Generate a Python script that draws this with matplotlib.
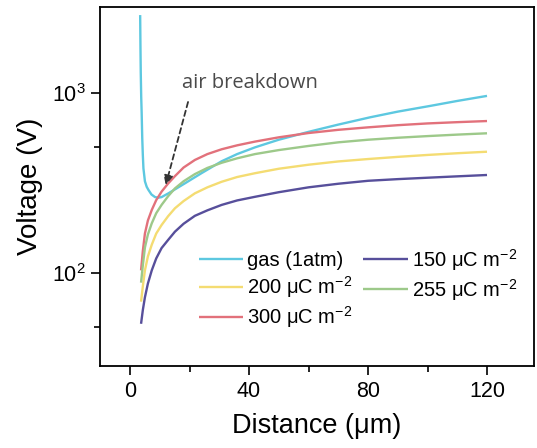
import matplotlib
matplotlib.use("Agg")
import matplotlib.pyplot as plt
from matplotlib.ticker import FixedLocator, NullFormatter

plt.rcParams['font.family'] = ['Liberation Sans', 'DejaVu Sans']
plt.rcParams['mathtext.fontset'] = 'custom'
plt.rcParams['mathtext.rm'] = 'Liberation Sans'
plt.rcParams['mathtext.it'] = 'Liberation Sans:italic'
plt.rcParams['mathtext.bf'] = 'Liberation Sans:bold'

# Gas (Paschen) curve
d_gas = [3.4, 3.5, 3.6, 3.75, 3.9, 4.1, 4.3, 4.5, 5.0, 5.6, 6.2, 7.2, 8.4, 9.5, 10.6, 12.9, 15.5,
         18.5, 24, 30.8, 36, 42, 50, 60, 70, 80.7, 90, 100.8, 110, 120]
v_gas = [2700, 1800, 1300, 950, 780, 560, 450, 380, 322, 300, 288, 272, 263, 261, 263, 276, 293,
         314, 357, 416, 456, 497, 548, 606, 665, 730, 785, 844, 900, 960]

# Surface charge curves
d_sc = [3.7, 4.3, 5.0, 6.0, 7.3, 8.8, 10.6, 12.8, 15.1, 18, 21.8, 26, 30.8, 36, 42, 50, 60, 70,
        80, 90, 100, 110, 120]
v_150 = [52, 62, 73, 87, 103, 120, 137, 152, 169, 187, 207, 222, 238, 252, 264, 280, 298, 312,
         324, 331, 337, 343, 349]
v_200 = [69, 84, 103, 123, 143, 165, 184, 206, 228, 250, 276, 298, 320, 340, 357, 378, 398, 415,
         428, 440, 451, 461, 470]
v_255 = [88, 110, 138, 163, 188, 214, 238, 266, 294, 322, 353, 382, 408, 432, 456, 480, 506, 530,
         548, 562, 574, 585, 595]
v_300 = [103, 132, 165, 195, 223, 253, 282, 313, 344, 384, 423, 456, 485, 510, 535, 565, 597, 622,
         642, 660, 675, 686, 696]

labels = ['gas (1atm)', r'200 μC m$^{-2}$', r'300 μC m$^{-2}$', r'150 μC m$^{-2}$', r'255 μC m$^{-2}$']
colors = ['#5DC8E0', '#F4DC72', '#E2717B', '#574F9B', '#9DC98A']

x_major = [0, 40, 80, 120]
x_minor = [20, 60, 100]
y_major = [100, 1000]
y_major_labels = [r'$10^2$', r'$10^3$']
y_minor = [50, 500]

fig = plt.figure(figsize=(5.37, 4.48), dpi=100)
ax = fig.add_axes([100/537, 1-366/448, 434/537, 359/448])

series = [(d_gas, v_gas), (d_sc, v_200), (d_sc, v_300), (d_sc, v_150), (d_sc, v_255)]
handles = []
for (xs, ys), lab, c in zip(series, labels, colors):
    h, = ax.plot(xs, ys, color=c, lw=1.7, label=lab, solid_capstyle='butt', solid_joinstyle='round')
    handles.append(h)

ax.set_yscale('log')
ax.set_xlim(-10.1, 135.8)
ax.set_ylim(30.3, 2994)

ax.xaxis.set_major_locator(FixedLocator(x_major))
ax.xaxis.set_minor_locator(FixedLocator(x_minor))
ax.yaxis.set_major_locator(FixedLocator(y_major))
ax.set_yticklabels(y_major_labels)
ax.yaxis.set_minor_locator(FixedLocator(y_minor))
ax.yaxis.set_minor_formatter(NullFormatter())

ax.tick_params(which='major', direction='out', length=6.5, width=1.2, labelsize=15.5, pad=4)
ax.tick_params(which='minor', direction='out', length=4, width=1.2)
ax.tick_params(top=False, right=False, which='both')
for s in ax.spines.values():
    s.set_linewidth(1.3)

ax.set_xlabel('Distance (μm)', fontsize=19.5, labelpad=8)
ax.set_ylabel('Voltage (V)', fontsize=20, labelpad=6)

ax.annotate('', xy=(12.0, 307), xytext=(19.5, 888),
            arrowprops=dict(arrowstyle='-|>', linestyle=(0, (3, 2)), color='#333333',
                            lw=1.3, mutation_scale=14, shrinkA=0, shrinkB=0))
ax.text(17.4, 1132, 'air breakdown', fontsize=14.5, color='#4a4a4a',
        family=['Open Sans', 'DejaVu Sans'], ha='left', va='center')

leg = ax.legend(handles=handles, ncol=2, loc='center', bbox_to_anchor=(0.594, 0.216),
                frameon=False, fontsize=14.5, handlelength=2.2, handletextpad=0.2,
                columnspacing=0.55, labelspacing=0.2, borderpad=0.2)

fig.savefig('out.png', dpi=100)
